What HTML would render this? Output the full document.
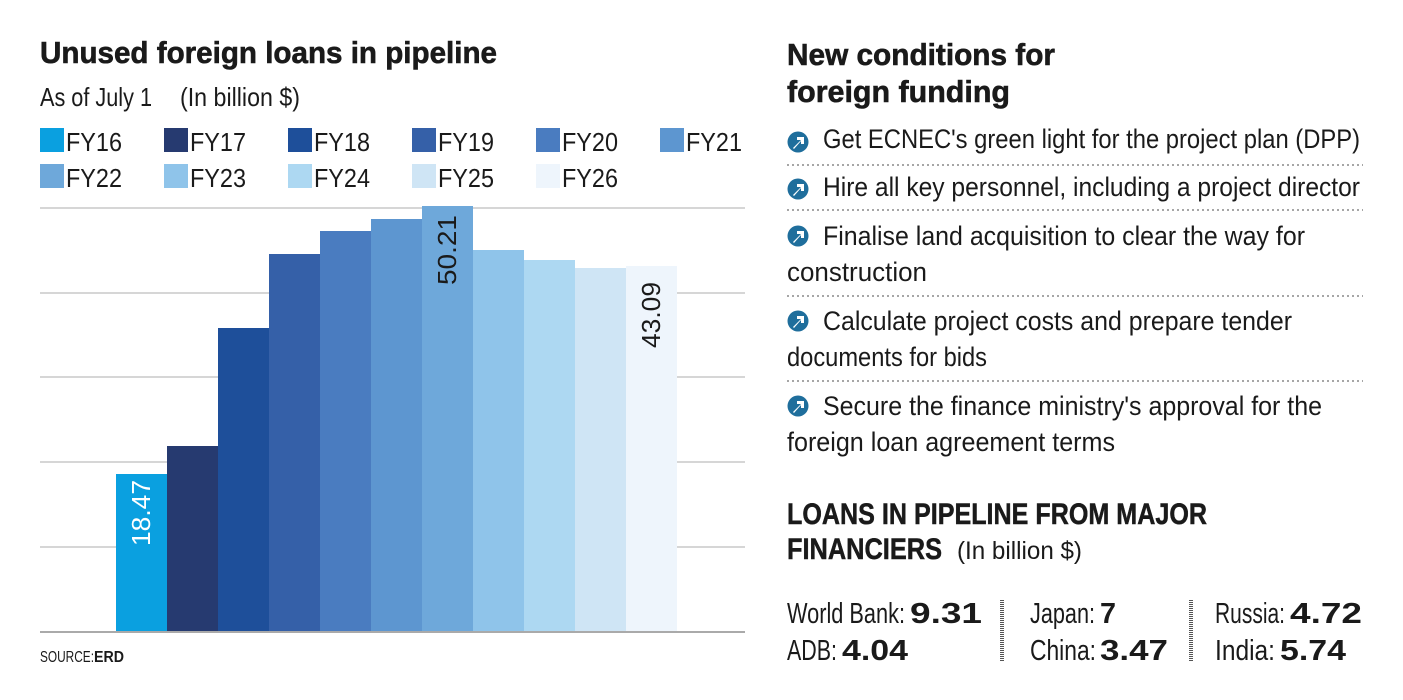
<!DOCTYPE html>
<html><head><meta charset="utf-8"><style>
html,body{margin:0;padding:0;background:#fff}
svg{display:block}
text{font-family:"Liberation Sans Narrow","Liberation Sans",sans-serif;fill:#1a1a1a}
.b{font-weight:bold}
</style></head><body>
<svg width="1403" height="700" viewBox="0 0 1403 700" xmlns="http://www.w3.org/2000/svg">
<defs>
<g id="ic"><circle cx="0" cy="0" r="10.5" fill="#1f6e9c"/><path d="M-5,6 L3,-2 L-1,-2 L-1,-5 L6,-5 L6,2 L3,2 L3,-1 L-4,7 Z" fill="#fff"/></g>
</defs>
<text x="40" y="63" class="b" font-size="31" textLength="457" lengthAdjust="spacingAndGlyphs" stroke="#1a1a1a" stroke-width="0.6">Unused foreign loans in pipeline</text>
<text x="40" y="106" font-size="26" textLength="112" lengthAdjust="spacingAndGlyphs">As of July 1</text>
<text x="180" y="106" font-size="26" textLength="120" lengthAdjust="spacingAndGlyphs">(In billion $)</text>
<g font-size="26">
<rect x="40" y="128" width="24" height="24" fill="#0aa0e0"/><text x="66" y="151" textLength="56" lengthAdjust="spacingAndGlyphs">FY16</text>
<rect x="164" y="128" width="24" height="24" fill="#263a70"/><text x="190" y="151" textLength="56" lengthAdjust="spacingAndGlyphs">FY17</text>
<rect x="288" y="128" width="24" height="24" fill="#1e4f9a"/><text x="314" y="151" textLength="56" lengthAdjust="spacingAndGlyphs">FY18</text>
<rect x="412" y="128" width="24" height="24" fill="#3560a8"/><text x="438" y="151" textLength="56" lengthAdjust="spacingAndGlyphs">FY19</text>
<rect x="536" y="128" width="24" height="24" fill="#4a7cc0"/><text x="562" y="151" textLength="56" lengthAdjust="spacingAndGlyphs">FY20</text>
<rect x="660" y="128" width="24" height="24" fill="#5d96d0"/><text x="686" y="151" textLength="56" lengthAdjust="spacingAndGlyphs">FY21</text>
<rect x="40" y="164" width="24" height="24" fill="#6ea8da"/><text x="66" y="187" textLength="56" lengthAdjust="spacingAndGlyphs">FY22</text>
<rect x="164" y="164" width="24" height="24" fill="#8fc4ea"/><text x="190" y="187" textLength="56" lengthAdjust="spacingAndGlyphs">FY23</text>
<rect x="288" y="164" width="24" height="24" fill="#add8f2"/><text x="314" y="187" textLength="56" lengthAdjust="spacingAndGlyphs">FY24</text>
<rect x="412" y="164" width="24" height="24" fill="#cfe5f5"/><text x="438" y="187" textLength="56" lengthAdjust="spacingAndGlyphs">FY25</text>
<rect x="536" y="164" width="24" height="24" fill="#eef5fc"/><text x="562" y="187" textLength="56" lengthAdjust="spacingAndGlyphs">FY26</text>
</g>
<g stroke="#c8c8c8" stroke-width="1.5">
<line x1="40" y1="208" x2="745" y2="208"/><line x1="40" y1="293" x2="745" y2="293"/>
<line x1="40" y1="377" x2="745" y2="377"/><line x1="40" y1="462" x2="745" y2="462"/>
<line x1="40" y1="547" x2="745" y2="547"/>
</g>
<rect x="116" y="474" width="51" height="158" fill="#0aa0e0"/>
<rect x="167" y="446" width="51" height="186" fill="#263a70"/>
<rect x="218" y="328" width="51" height="304" fill="#1e4f9a"/>
<rect x="269" y="254" width="51" height="378" fill="#3560a8"/>
<rect x="320" y="231" width="51" height="401" fill="#4a7cc0"/>
<rect x="371" y="219" width="51" height="413" fill="#5d96d0"/>
<rect x="422" y="206" width="51" height="426" fill="#6ea8da"/>
<rect x="473" y="250" width="51" height="382" fill="#8fc4ea"/>
<rect x="524" y="260" width="51" height="372" fill="#add8f2"/>
<rect x="575" y="268" width="51" height="364" fill="#cfe5f5"/>
<rect x="626" y="266" width="51" height="366" fill="#eef5fc"/>
<line x1="40" y1="632" x2="745" y2="632" stroke="#aaa" stroke-width="2"/>
<text transform="translate(150,546) rotate(-90)" font-size="26" style="fill:#fff" textLength="66" lengthAdjust="spacingAndGlyphs">18.47</text>
<text transform="translate(456,285) rotate(-90)" font-size="26" textLength="70" lengthAdjust="spacingAndGlyphs">50.21</text>
<text transform="translate(660,348) rotate(-90)" font-size="26" textLength="66" lengthAdjust="spacingAndGlyphs">43.09</text>
<text x="40" y="662" font-size="16" textLength="54" lengthAdjust="spacingAndGlyphs">SOURCE:</text><text x="94" y="662" class="b" font-size="16" textLength="30" lengthAdjust="spacingAndGlyphs">ERD</text>
<text x="787" y="65" class="b" font-size="31" textLength="268" lengthAdjust="spacingAndGlyphs" stroke="#1a1a1a" stroke-width="0.6">New conditions for</text>
<text x="787" y="102" class="b" font-size="31" textLength="223" lengthAdjust="spacingAndGlyphs" stroke="#1a1a1a" stroke-width="0.6">foreign funding</text>
<g font-size="27">
<use href="#ic" x="798" y="142"/><text x="823" y="148" textLength="537" lengthAdjust="spacingAndGlyphs">Get ECNEC's green light for the project plan (DPP)</text>
<use href="#ic" x="798" y="189"/><text x="823" y="196" textLength="537" lengthAdjust="spacingAndGlyphs">Hire all key personnel, including a project director</text>
<use href="#ic" x="798" y="236"/><text x="823" y="245" textLength="482" lengthAdjust="spacingAndGlyphs">Finalise land acquisition to clear the way for</text>
<text x="787" y="281" textLength="140" lengthAdjust="spacingAndGlyphs">construction</text>
<use href="#ic" x="798" y="321"/><text x="823" y="330" textLength="469" lengthAdjust="spacingAndGlyphs">Calculate project costs and prepare tender</text>
<text x="787" y="366" textLength="200" lengthAdjust="spacingAndGlyphs">documents for bids</text>
<use href="#ic" x="798" y="406"/><text x="823" y="415" textLength="499" lengthAdjust="spacingAndGlyphs">Secure the finance ministry's approval for the</text>
<text x="787" y="451" textLength="328" lengthAdjust="spacingAndGlyphs">foreign loan agreement terms</text>
</g>
<g stroke="#888" stroke-width="1.5" stroke-dasharray="2,3">
<line x1="787" y1="165" x2="1363" y2="165"/><line x1="787" y1="210" x2="1363" y2="210"/>
<line x1="787" y1="296" x2="1363" y2="296"/><line x1="787" y1="381" x2="1363" y2="381"/>
</g>
<text x="787" y="524" class="b" font-size="30" textLength="420" lengthAdjust="spacingAndGlyphs" stroke="#1a1a1a" stroke-width="0.5">LOANS IN PIPELINE FROM MAJOR</text>
<text x="787" y="559" class="b" font-size="30" textLength="155" lengthAdjust="spacingAndGlyphs" stroke="#1a1a1a" stroke-width="0.5">FINANCIERS</text>
<text x="957" y="559" font-size="25" textLength="125" lengthAdjust="spacingAndGlyphs">(In billion $)</text>
<g font-size="29">
<text x="787" y="623" textLength="118" lengthAdjust="spacingAndGlyphs">World Bank:</text><text x="910" y="623" class="b" textLength="72" lengthAdjust="spacingAndGlyphs">9.31</text>
<text x="787" y="660" textLength="50" lengthAdjust="spacingAndGlyphs">ADB:</text><text x="842" y="660" class="b" textLength="66" lengthAdjust="spacingAndGlyphs">4.04</text>
<text x="1030" y="623" textLength="65" lengthAdjust="spacingAndGlyphs">Japan:</text><text x="1100" y="623" class="b" textLength="16" lengthAdjust="spacingAndGlyphs">7</text>
<text x="1030" y="660" textLength="66" lengthAdjust="spacingAndGlyphs">China:</text><text x="1100" y="660" class="b" textLength="68" lengthAdjust="spacingAndGlyphs">3.47</text>
<text x="1215" y="623" textLength="70" lengthAdjust="spacingAndGlyphs">Russia:</text><text x="1290" y="623" class="b" textLength="72" lengthAdjust="spacingAndGlyphs">4.72</text>
<text x="1215" y="660" textLength="60" lengthAdjust="spacingAndGlyphs">India:</text><text x="1280" y="660" class="b" textLength="66" lengthAdjust="spacingAndGlyphs">5.74</text>
</g>
<g stroke="#555" stroke-width="4" stroke-dasharray="1,1">
<line x1="1002" y1="600" x2="1002" y2="662"/><line x1="1191" y1="600" x2="1191" y2="662"/>
</g>
</svg>
</body></html>
